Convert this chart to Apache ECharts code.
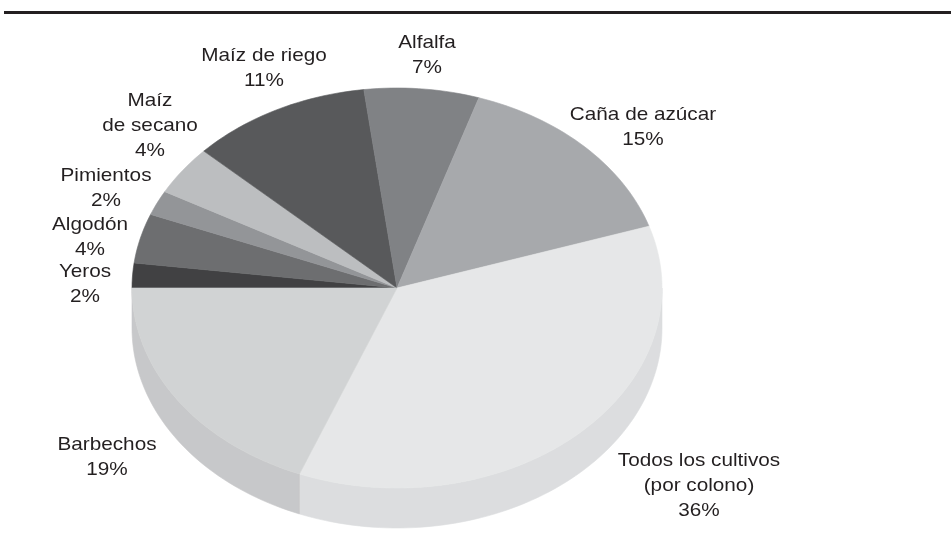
<!DOCTYPE html>
<html>
<head>
<meta charset="utf-8">
<style>
  html, body { margin: 0; padding: 0; background: #fff; }
  #chart { width: 951px; height: 543px; }
</style>
<script src="https://cdn.jsdelivr.net/npm/echarts@6/dist/echarts.min.js"></script>
</head>
<body>
<div id="chart"></div>
<script>
// crops, clockwise from the left edge of the pie
const crops = [
  "Yeros", "Algodón", "Pimientos", "Maíz\nde secano", "Maíz de riego",
  "Alfalfa", "Caña de azúcar", "Todos los cultivos\n(por colono)", "Barbechos"
];
const shares = [2, 4, 2, 4, 11, 7, 15, 36, 19];

// cool gray fills: top face and visible rim
const topColors = ["#414143", "#6d6e70", "#939598", "#bcbec0", "#58595b", "#808285", "#a7a9ac", "#e6e7e8", "#d1d3d4"];
const sideColors = ["#353537", "#5f6062", "#85878a", "#aeb0b2", "#4a4b4d", "#727477", "#999b9e", "#dcdddf", "#c7c8ca"];

// label placement: centre x, baseline of first line
const labelAt = [[85, 279], [90, 232], [106, 183], [150, 108], [264, 63], [427, 50], [643, 122], [699, 468], [107, 452]];

const cx = 397, cy = 288, rx = 265, ry = 200, depth = 40;
const fs = 18.5, lineH = 25;
const total = shares.reduce((a, b) => a + b, 0);

function pt(deg, dy) {
  const r = deg * Math.PI / 180;
  return [cx + rx * Math.cos(r), cy - ry * Math.sin(r) + (dy || 0)];
}
function arc(a0, a1, dy) {
  const n = Math.max(2, Math.ceil(Math.abs(a0 - a1) / 1.5));
  const pts = [];
  for (let i = 0; i <= n; i++) pts.push(pt(a0 + (a1 - a0) * i / n, dy));
  return pts;
}

function renderItem(params, api) {
  const i = params.dataIndex;
  let before = 0;
  for (let k = 0; k < i; k++) before += shares[k];
  const a0 = 180 - 360 * before / total;
  const a1 = a0 - 360 * api.value(0) / total;
  const children = [];

  // rim only where the slice faces the viewer
  const s0 = Math.min(a0, 0), s1 = Math.max(a1, -180);
  if (s0 > s1) {
    const pts = arc(s0, s1, 0).concat(arc(s1, s0, depth));
    children.push({ type: "polygon", shape: { points: pts },
      style: { fill: sideColors[i], stroke: sideColors[i], lineWidth: 0.6 } });
  }
  children.push({ type: "polygon", shape: { points: [[cx, cy]].concat(arc(a0, a1, 0)) },
    style: { fill: topColors[i], stroke: topColors[i], lineWidth: 0.6 } });

  const [lx, lb] = labelAt[i];
  children.push({
    type: "text", x: lx, y: lb - lineH / 2 - 0.36 * fs, scaleX: 1.12,
    style: {
      text: crops[i] + "\n" + api.value(0) + "%",
      x: 0, y: 0, align: "center", verticalAlign: "top",
      fontFamily: "Liberation Sans, Arial, Helvetica, sans-serif",
      fontSize: fs, lineHeight: lineH, fill: "#231f20"
    }
  });
  return { type: "group", children };
}

const chart = echarts.init(document.getElementById("chart"), null, { renderer: "canvas" });
chart.setOption({
  animation: false,
  backgroundColor: "#fff",
  graphic: [{
    type: "line", shape: { x1: 4, y1: 12.5, x2: 951, y2: 12.5 },
    style: { stroke: "#231f20", lineWidth: 3 }
  }],
  series: [{
    type: "custom",
    coordinateSystem: "none",
    renderItem: renderItem,
    data: shares.map((v, i) => ({ name: crops[i], value: [v] }))
  }]
});
window.addEventListener("resize", () => chart.resize());
</script>
</body>
</html>
